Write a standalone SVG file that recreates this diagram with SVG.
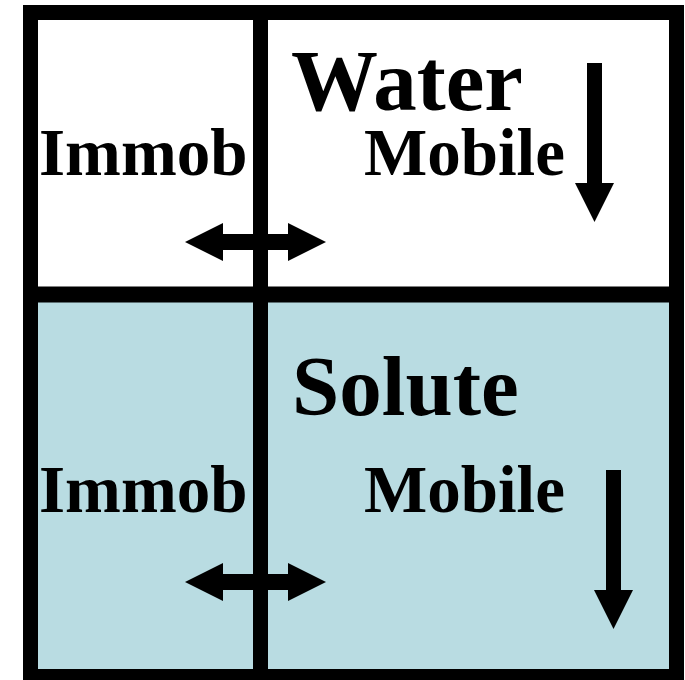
<svg xmlns="http://www.w3.org/2000/svg" width="685" height="680" viewBox="0 0 685 680">
  <style>
    .lbl { font-family: "Liberation Serif", "Times New Roman", serif; font-weight: bold; fill: #000; }
    .mid { font-size: 67px; }
    .frame { fill: none; stroke: #000; stroke-width: 15; }
    .arrow { fill: #000; }
  </style>
  <defs>
    <path id="dbl" d="M0,0 L38,-19 L38,-8 L103,-8 L103,-19 L141,0 L103,19 L103,8 L38,8 L38,19 Z"/>
    <path id="down" d="M-7.5,0 L7.5,0 L7.5,120 L19.5,120 L0,159 L-19.5,120 L-7.5,120 Z"/>
  </defs>
  <rect x="0" y="0" width="685" height="680" fill="#fff"/>
  <g id="water">
    <rect x="30.5" y="12.5" width="646" height="282" fill="#fff"/>
    <text class="lbl" x="291" y="110" font-size="87">Water</text>
  </g>
  <g id="solute">
    <rect x="30.5" y="294.5" width="646" height="382" fill="#B9DCE2"/>
    <text class="lbl" x="292" y="415" font-size="85">Solute</text>
  </g>
  <g id="water-immob">
    <text class="lbl mid" x="39" y="175">Immob</text>
  </g>
  <g id="water-mobile">
    <text class="lbl mid" x="364" y="175">Mobile</text>
  </g>
  <g id="solute-immob">
    <text class="lbl mid" x="39" y="512">Immob</text>
  </g>
  <g id="solute-mobile">
    <text class="lbl mid" x="364" y="512">Mobile</text>
  </g>
  <g id="frame">
    <rect class="frame" x="30.5" y="12.5" width="646" height="664"/>
    <line x1="30.5" y1="294.5" x2="676.5" y2="294.5" stroke="#000" stroke-width="16"/>
    <line x1="260.5" y1="12.5" x2="260.5" y2="676.5" stroke="#000" stroke-width="15"/>
  </g>
  <g id="connectors">
    <use href="#dbl" class="arrow" transform="translate(185,242)"/>
    <use href="#dbl" class="arrow" transform="translate(185,582)"/>
    <use href="#down" class="arrow" transform="translate(594.5,63)"/>
    <use href="#down" class="arrow" transform="translate(613.5,470)"/>
  </g>
</svg>
